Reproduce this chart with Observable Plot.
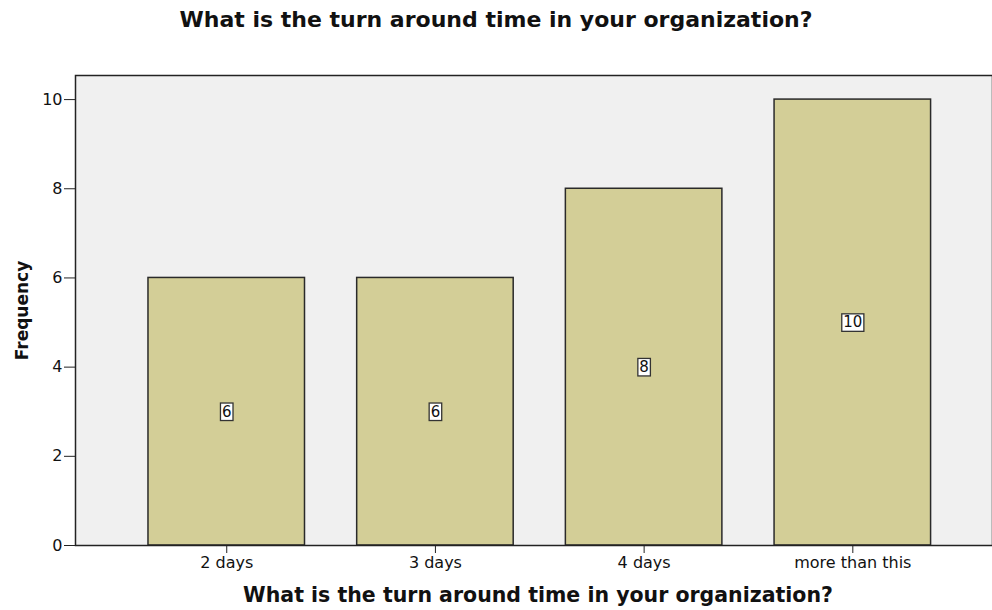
<!DOCTYPE html>
<html><head><meta charset="utf-8">
<script src="https://cdn.jsdelivr.net/npm/d3@7"></script>
<script src="https://cdn.jsdelivr.net/npm/@observablehq/plot@0.6"></script>
<style>
html,body{margin:0;padding:0;background:#fff;overflow:hidden;}
#title{height:40px;line-height:40px;text-align:center;font-family:"DejaVu Sans",sans-serif;font-weight:bold;font-size:22px;color:#111;}
</style></head>
<body>
<div id="title">What is the turn around time in your organization?</div>
<div id="chart"></div>
<script>
const categories = ["2 days", "3 days", "4 days", "more than this"];
const frequencies = [6, 6, 8, 10];
const yTicks = [0, 2, 4, 6, 8, 10];
const xTitle = "What is the turn around time in your organization?";
const yTitle = "Frequency";

const data = categories.map((c, i) => ({category: c, value: frequencies[i]}));

const plot = Plot.plot({
  width: 992,
  height: 570,
  marginTop: 35,
  marginBottom: 65,
  marginLeft: 75,
  marginRight: 0,
  style: {fontFamily: "DejaVu Sans, sans-serif", fontSize: "16px", color: "#111", background: "transparent"},
  x: {domain: categories, paddingInner: 0.25, paddingOuter: 0.322, align: 0.543, round: false},
  y: {domain: [0, 10.54]},
  marks: [
    Plot.frame({fill: "#f0f0f0", stroke: "none"}),
    Plot.barY(data, {x: "category", y: "value", fill: "#d3ce97", stroke: "#2a2a2a", strokeWidth: 1.5}),
    Plot.frame({stroke: "#222", strokeWidth: 1.5}),
    Plot.axisY(yTicks, {tickSize: 11, tickPadding: 2, label: null, fontSize: 16, stroke: "#222"}),
    Plot.axisX({tickSize: 8, tickPadding: 3, label: null, fontSize: 16, stroke: "#222"}),
    Plot.text(data, {x: "category", y: d => d.value / 2, text: d => String(d.value), fontSize: 15, fill: "#111", className: "vlabel"}),
    Plot.text([xTitle], {frameAnchor: "bottom", dy: 56, dx: 4, text: d => d, fontWeight: "bold", fontSize: 20.5, fill: "#111"}),
    Plot.text([yTitle], {frameAnchor: "left", dx: -53, rotate: -90, textAnchor: "middle", text: d => d, fontWeight: "bold", fontSize: 17, fill: "#111"})
  ]
});
document.getElementById("chart").appendChild(plot);

// white boxes behind value labels
d3.select(plot).selectAll("g.vlabel text").each(function() {
  const b = this.getBBox();
  const r = d3.select(this.parentNode).insert("rect", () => this)
    .attr("x", b.x - 1.5).attr("y", b.y + 0.5)
    .attr("width", b.width + 3).attr("height", b.height - 0.5)
    .attr("fill", "#fff").attr("stroke", "#333").attr("stroke-width", 1.3);
  const t = this.getAttribute("transform");
  if (t) r.attr("transform", t);
});
</script>
</body></html>
